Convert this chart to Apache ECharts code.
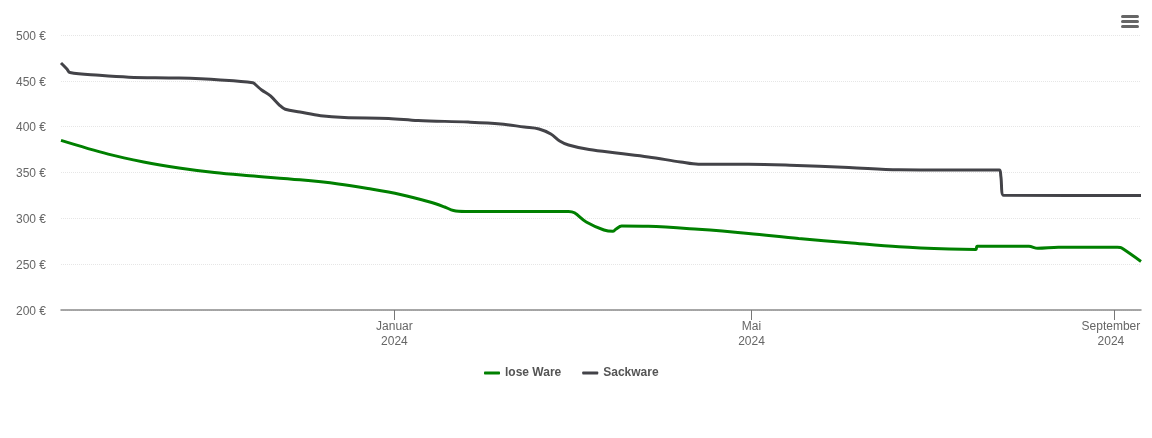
<!DOCTYPE html>
<html>
<head>
<meta charset="utf-8">
<style>
  html, body { margin: 0; padding: 0; background: #fff; }
  #chart { width: 1152px; height: 438px; }
</style>
<script src="https://cdn.jsdelivr.net/npm/echarts@6/dist/echarts.min.js"></script>
</head>
<body>
<div id="chart"></div>
<script>
var seriesNames = ['lose Ware', 'Sackware'];

var looseDates = ['2023-09-10', '2023-09-26', '2023-10-08', '2023-10-20', '2023-11-01',
  '2023-11-13', '2023-11-30', '2023-12-13', '2023-12-23', '2024-01-03', '2024-01-13', '2024-01-18',
  '2024-01-21', '2024-01-25', '2024-02-29', '2024-03-02', '2024-03-06', '2024-03-12', '2024-03-15',
  '2024-03-16', '2024-03-18', '2024-03-27', '2024-04-13', '2024-04-30', '2024-05-17', '2024-06-03',
  '2024-06-20', '2024-07-07', '2024-07-16', '2024-07-16 12:00', '2024-08-03', '2024-08-06',
  '2024-08-13', '2024-09-02', '2024-09-03', '2024-09-04', '2024-09-10'];
var looseValues = [385, 370, 361.5, 355, 350,
  346.5, 342, 337.5, 332.5, 326, 317.8, 312.4,
  308.5, 307.5, 307.5, 306, 296, 287.3, 285.8,
  288, 291.6, 291.3, 288, 283.5, 278, 273.4,
  269, 266.5, 266, 269.5, 269.5, 267.3,
  268.4, 268.4, 268.2, 266.5, 253];

var sackDates = ['2023-09-10', '2023-09-12', '2023-09-13', '2023-09-23', '2023-10-03', '2023-10-20',
  '2023-11-03', '2023-11-14', '2023-11-15', '2023-11-17', '2023-11-20', '2023-11-23', '2023-11-25',
  '2023-11-30', '2023-12-07', '2023-12-15', '2023-12-30', '2024-01-09', '2024-01-26', '2024-02-06',
  '2024-02-14', '2024-02-19', '2024-02-23', '2024-02-26', '2024-02-29', '2024-03-07', '2024-03-17',
  '2024-03-27', '2024-04-07', '2024-04-13', '2024-04-30', '2024-05-14', '2024-06-03', '2024-06-20',
  '2024-07-07', '2024-07-24', '2024-07-24 12:00', '2024-07-25 10:00', '2024-09-10'];
var sackValues = [469.5, 463, 459, 456, 454, 453,
  451, 448, 445.5, 440, 433.5, 423.6, 419,
  416, 412, 410, 409, 406.7, 405, 403,
  399.6, 397.5, 392, 384.4, 380, 375, 371,
  367, 361.5, 359, 359, 358, 355.5, 353,
  352.7, 352.7, 346, 325.2, 325];

var tickDates = ['2024-01-01', '2024-05-01', '2024-09-01'];
var tickMonths = ['Januar', 'Mai', 'September'];
var tickYears = ['2024', '2024', '2024'];

function toTime(d) {
  return echarts.time.parse(d).getTime();
}

var tickTimes = tickDates.map(toTime);

function pairUp(dates, values) {
  return dates.map(function (d, i) {
    return [toTime(d), values[i]];
  });
}

var chart = echarts.init(document.getElementById('chart'), null, { renderer: 'canvas' });

var option = {
  animation: false,
  textStyle: { fontFamily: '"Liberation Sans", Arial, sans-serif' },
  grid: { left: 61, right: 11, top: 35, bottom: 128 },
  legend: {
    data: seriesNames,
    left: 479,
    top: 362,
    itemWidth: 16,
    itemHeight: 3,
    itemGap: 21,
    icon: 'roundRect',
    textStyle: { color: '#555555', fontSize: 12, fontWeight: 'bold',
      fontFamily: '"Liberation Sans", Arial, sans-serif' }
  },
  xAxis: {
    type: 'value',
    min: toTime('2023-09-10'),
    max: toTime('2024-09-10'),
    axisLine: { lineStyle: { color: '#8a8a8a', width: 1.5 } },
    axisTick: { show: true, length: 10, customValues: tickTimes, lineStyle: { color: '#777777', width: 1 } },
    axisLabel: {
      show: true,
      customValues: tickTimes,
      color: '#666666',
      fontSize: 12,
      lineHeight: 15,
      margin: 9,
      hideOverlap: false,
      showMinLabel: true,
      showMaxLabel: true,
      formatter: function (value) {
        var i = tickTimes.indexOf(value);
        if (i < 0) return '';
        // the last label sits a little left of its tick in the original
        if (i === tickTimes.length - 1) {
          return '{last|' + tickMonths[i] + '}\n{last|' + tickYears[i] + '}';
        }
        return tickMonths[i] + '\n' + tickYears[i];
      },
      rich: {
        last: { color: '#666666', fontSize: 12, lineHeight: 15, padding: [0, 7, 0, 0] }
      }
    },
    splitLine: { show: false }
  },
  yAxis: {
    type: 'value',
    min: 200,
    max: 500,
    interval: 50,
    axisLine: { show: false },
    axisTick: { show: false },
    axisLabel: {
      margin: 15,
      formatter: '{v|{value} €}',
      rich: {
        v: { color: '#666666', fontSize: 12, padding: [3, 0, 0, 0] }
      }
    },
    splitLine: { lineStyle: { color: '#e6e6e6', type: 'dotted', width: 1 } }
  },
  series: [
    {
      name: seriesNames[0],
      type: 'line',
      data: pairUp(looseDates, looseValues),
      showSymbol: false,
      smooth: 0.35,
      lineStyle: { color: '#008000', width: 3 },
      itemStyle: { color: '#008000' }
    },
    {
      name: seriesNames[1],
      type: 'line',
      data: pairUp(sackDates, sackValues),
      showSymbol: false,
      smooth: 0.35,
      lineStyle: { color: '#434348', width: 3 },
      itemStyle: { color: '#434348' }
    }
  ],
  graphic: [
    { type: 'rect', left: 1121, top: 15, shape: { width: 18, height: 3, r: 1.5 }, style: { fill: '#666666' } },
    { type: 'rect', left: 1121, top: 20, shape: { width: 18, height: 3, r: 1.5 }, style: { fill: '#666666' } },
    { type: 'rect', left: 1121, top: 25, shape: { width: 18, height: 3, r: 1.5 }, style: { fill: '#666666' } }
  ]
};

chart.setOption(option);
</script>
</body>
</html>
